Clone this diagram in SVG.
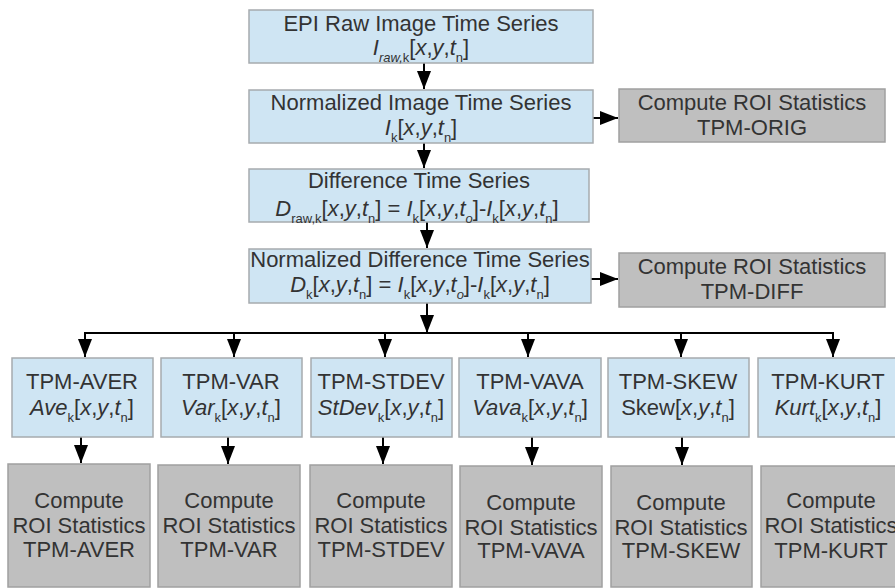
<svg xmlns="http://www.w3.org/2000/svg" width="895" height="588" viewBox="0 0 895 588">
<style>
.blue{fill:#cfe5f3;stroke:#a6abae;stroke-width:1.5}
.gray{fill:#bfbfbf;stroke:#a0a0a0;stroke-width:1.5}
text{font-family:"Liberation Sans",Arial,sans-serif;font-size:22px;fill:#333;text-anchor:middle}
.i{font-style:italic}
.s{font-size:13px}
.conn{stroke:#000;stroke-width:2;fill:none}
</style>
<defs>
<marker id="ah" markerUnits="userSpaceOnUse" markerWidth="18" markerHeight="14" refX="18" refY="7" orient="auto"><path d="M0,0 L18,7 L0,14 z" fill="#000"/></marker>
</defs>
<rect width="895" height="588" fill="#fff"/>
<g id="connectors">
<line class="conn" x1="424" y1="63" x2="424" y2="89" marker-end="url(#ah)"/>
<line class="conn" x1="424" y1="143" x2="424" y2="168" marker-end="url(#ah)"/>
<line class="conn" x1="427" y1="222" x2="427" y2="248" marker-end="url(#ah)"/>
<line class="conn" x1="593" y1="118" x2="618" y2="118" marker-end="url(#ah)"/>
<line class="conn" x1="591" y1="279" x2="618" y2="279" marker-end="url(#ah)"/>
<line class="conn" x1="427" y1="303" x2="427" y2="333" marker-end="url(#ah)"/>
<path class="conn" d="M85,333 H833"/>
<line class="conn" x1="85" y1="332" x2="85" y2="357" marker-end="url(#ah)"/>
<line class="conn" x1="234" y1="333" x2="234" y2="357" marker-end="url(#ah)"/>
<line class="conn" x1="385" y1="333" x2="385" y2="357" marker-end="url(#ah)"/>
<line class="conn" x1="528" y1="333" x2="528" y2="357" marker-end="url(#ah)"/>
<line class="conn" x1="681" y1="333" x2="681" y2="357" marker-end="url(#ah)"/>
<line class="conn" x1="833" y1="332" x2="833" y2="357" marker-end="url(#ah)"/>
<line class="conn" x1="81" y1="437" x2="81" y2="463" marker-end="url(#ah)"/>
<line class="conn" x1="228" y1="437" x2="228" y2="464" marker-end="url(#ah)"/>
<line class="conn" x1="383" y1="437" x2="383" y2="464" marker-end="url(#ah)"/>
<line class="conn" x1="532" y1="437" x2="532" y2="465" marker-end="url(#ah)"/>
<line class="conn" x1="682" y1="437" x2="682" y2="465" marker-end="url(#ah)"/>
</g>
<g id="raw">
<rect class="blue" x="249" y="10" width="344" height="53"/>
<text x="421" y="31">EPI Raw Image Time Series</text>
<text x="421" y="55"><tspan class="i">I</tspan><tspan class="s i" dy="7">raw,</tspan><tspan class="s">k</tspan><tspan dy="-7">[</tspan><tspan class="i">x</tspan>,<tspan class="i">y</tspan>,<tspan class="i">t</tspan><tspan class="s" dy="7">n</tspan><tspan dy="-7">]</tspan></text>
</g>
<g id="norm">
<rect class="blue" x="249" y="90" width="344" height="53"/>
<text x="421" y="110">Normalized Image Time Series</text>
<text x="421" y="135"><tspan class="i">I</tspan><tspan class="s" dy="7">k</tspan><tspan dy="-7">[</tspan><tspan class="i">x</tspan>,<tspan class="i">y</tspan>,<tspan class="i">t</tspan><tspan class="s" dy="7">n</tspan><tspan dy="-7">]</tspan></text>
</g>
<g id="orig">
<rect class="gray" x="619" y="89" width="266" height="53"/>
<text x="752" y="110">Compute ROI Statistics</text>
<text x="752" y="135">TPM-ORIG</text>
</g>
<g id="diff">
<rect class="blue" x="249" y="169" width="340" height="53"/>
<text x="419" y="188">Difference Time Series</text>
<text x="417" y="216"><tspan class="i">D</tspan><tspan class="s" dy="7">raw,k</tspan><tspan dy="-7">[</tspan><tspan class="i">x</tspan>,<tspan class="i">y</tspan>,<tspan class="i">t</tspan><tspan class="s" dy="7">n</tspan><tspan dy="-7">] = </tspan><tspan class="i">I</tspan><tspan class="s" dy="7">k</tspan><tspan dy="-7">[</tspan><tspan class="i">x</tspan>,<tspan class="i">y</tspan>,<tspan class="i">t</tspan><tspan class="s i" dy="7">o</tspan><tspan dy="-7">]-</tspan><tspan class="i">I</tspan><tspan class="s" dy="7">k</tspan><tspan dy="-7">[</tspan><tspan class="i">x</tspan>,<tspan class="i">y</tspan>,<tspan class="i">t</tspan><tspan class="s" dy="7">n</tspan><tspan dy="-7">]</tspan></text>
</g>
<g id="ndiff">
<rect class="blue" x="249" y="249" width="342" height="54"/>
<text x="420" y="267">Normalized Difference Time Series</text>
<text x="420" y="292"><tspan class="i">D</tspan><tspan class="s" dy="7">k</tspan><tspan dy="-7">[</tspan><tspan class="i">x</tspan>,<tspan class="i">y</tspan>,<tspan class="i">t</tspan><tspan class="s" dy="7">n</tspan><tspan dy="-7">] = </tspan><tspan class="i">I</tspan><tspan class="s" dy="7">k</tspan><tspan dy="-7">[</tspan><tspan class="i">x</tspan>,<tspan class="i">y</tspan>,<tspan class="i">t</tspan><tspan class="s i" dy="7">o</tspan><tspan dy="-7">]-</tspan><tspan class="i">I</tspan><tspan class="s" dy="7">k</tspan><tspan dy="-7">[</tspan><tspan class="i">x</tspan>,<tspan class="i">y</tspan>,<tspan class="i">t</tspan><tspan class="s" dy="7">n</tspan><tspan dy="-7">]</tspan></text>
</g>
<g id="tdiff">
<rect class="gray" x="619" y="253" width="266" height="54"/>
<text x="752" y="274">Compute ROI Statistics</text>
<text x="752" y="299">TPM-DIFF</text>
</g>
<g id="aver">
<rect class="blue" x="12" y="358" width="141" height="79"/>
<text x="82" y="389">TPM-AVER</text>
<text x="82" y="415"><tspan class="i">Ave</tspan><tspan class="s" dy="7">k</tspan><tspan dy="-7">[</tspan><tspan class="i">x</tspan>,<tspan class="i">y</tspan>,<tspan class="i">t</tspan><tspan class="s" dy="7">n</tspan><tspan dy="-7">]</tspan></text>
</g>
<g id="var">
<rect class="blue" x="161" y="358" width="141" height="79"/>
<text x="231" y="389">TPM-VAR</text>
<text x="231" y="415"><tspan class="i">Var</tspan><tspan class="s" dy="7">k</tspan><tspan dy="-7">[</tspan><tspan class="i">x</tspan>,<tspan class="i">y</tspan>,<tspan class="i">t</tspan><tspan class="s" dy="7">n</tspan><tspan dy="-7">]</tspan></text>
</g>
<g id="stdev">
<rect class="blue" x="311" y="358" width="141" height="79"/>
<text x="381" y="389">TPM-STDEV</text>
<text x="381" y="415"><tspan class="i">StDev</tspan><tspan class="s" dy="7">k</tspan><tspan dy="-7">[</tspan><tspan class="i">x</tspan>,<tspan class="i">y</tspan>,<tspan class="i">t</tspan><tspan class="s" dy="7">n</tspan><tspan dy="-7">]</tspan></text>
</g>
<g id="vava">
<rect class="blue" x="459" y="358" width="142" height="79"/>
<text x="530" y="389">TPM-VAVA</text>
<text x="530" y="415"><tspan class="i">Vava</tspan><tspan class="s" dy="7">k</tspan><tspan dy="-7">[</tspan><tspan class="i">x</tspan>,<tspan class="i">y</tspan>,<tspan class="i">t</tspan><tspan class="s" dy="7">n</tspan><tspan dy="-7">]</tspan></text>
</g>
<g id="skew">
<rect class="blue" x="608" y="358" width="141" height="79"/>
<text x="678" y="389">TPM-SKEW</text>
<text x="678" y="415">Skew[<tspan class="i">x</tspan>,<tspan class="i">y</tspan>,<tspan class="i">t</tspan><tspan class="s" dy="7">n</tspan><tspan dy="-7">]</tspan></text>
</g>
<g id="kurt">
<rect class="blue" x="758" y="358" width="141" height="79"/>
<text x="828" y="389">TPM-KURT</text>
<text x="828" y="415"><tspan class="i">Kurt</tspan><tspan class="s" dy="7">k</tspan><tspan dy="-7">[</tspan><tspan class="i">x</tspan>,<tspan class="i">y</tspan>,<tspan class="i">t</tspan><tspan class="s" dy="7">n</tspan><tspan dy="-7">]</tspan></text>
</g>
<g id="c-aver">
<rect class="gray" x="8" y="464" width="142" height="123"/>
<text x="79" y="508">Compute</text>
<text x="79" y="533">ROI Statistics</text>
<text x="79" y="557">TPM-AVER</text>
</g>
<g id="c-var">
<rect class="gray" x="158" y="465" width="142" height="122"/>
<text x="229" y="508">Compute</text>
<text x="229" y="533">ROI Statistics</text>
<text x="229" y="557">TPM-VAR</text>
</g>
<g id="c-stdev">
<rect class="gray" x="310" y="465" width="142" height="122"/>
<text x="381" y="508">Compute</text>
<text x="381" y="533">ROI Statistics</text>
<text x="381" y="557">TPM-STDEV</text>
</g>
<g id="c-vava">
<rect class="gray" x="460" y="466" width="142" height="121"/>
<text x="531" y="510">Compute</text>
<text x="531" y="535">ROI Statistics</text>
<text x="531" y="558">TPM-VAVA</text>
</g>
<g id="c-skew">
<rect class="gray" x="611" y="466" width="141" height="121"/>
<text x="681" y="510">Compute</text>
<text x="681" y="535">ROI Statistics</text>
<text x="681" y="558">TPM-SKEW</text>
</g>
<g id="c-kurt">
<rect class="gray" x="761" y="466" width="142" height="121"/>
<text x="831" y="508">Compute</text>
<text x="831" y="533">ROI Statistics</text>
<text x="831" y="558">TPM-KURT</text>
</g>
</svg>
